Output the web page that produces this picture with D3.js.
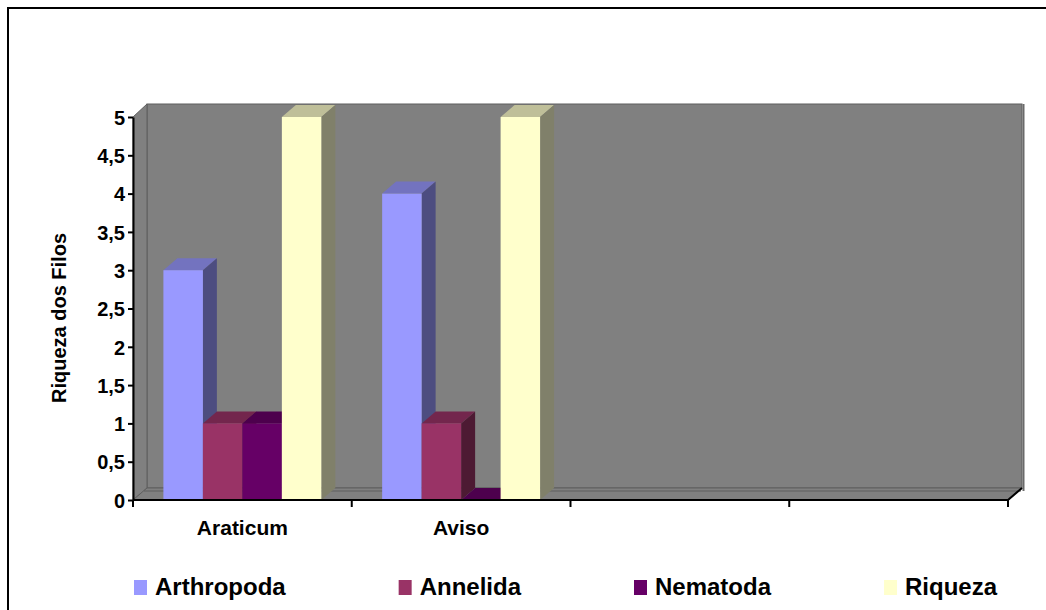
<!DOCTYPE html>
<html>
<head>
<meta charset="utf-8">
<script src="https://cdn.jsdelivr.net/npm/d3@7"></script>
<style>
  html, body { margin: 0; padding: 0; background: #fff; }
  svg { display: block; }
  text { font-family: Arial, "Liberation Sans", sans-serif; font-weight: bold; fill: #000; }
</style>
</head>
<body>
<svg id="chart" width="1046" height="610"></svg>
<script>
// Category slots on the x axis (the last two are empty)
const categories = ["Araticum", "Aviso", "", ""];
// Series names
const series = ["Arthropoda", "Annelida", "Nematoda", "Riqueza"];
// Values per series, one per category slot (null = no data)
const arthropoda = [3, 4, null, null];
const annelida   = [1, 1, null, null];
const nematoda   = [1, 0, null, null];
const riqueza    = [5, 5, null, null];
// Y axis ticks
const yTicks = [0, 0.5, 1, 1.5, 2, 2.5, 3, 3.5, 4, 4.5, 5];
const yTitle = "Riqueza dos Filos";

const seriesValues = [arthropoda, annelida, nematoda, riqueza];

// face colours: front, top, side
const palette = {
  Arthropoda: { front: "#9999FF", top: "#7373BF", side: "#4D4D80" },
  Annelida:   { front: "#993366", top: "#73264D", side: "#4D1A33" },
  Nematoda:   { front: "#660066", top: "#4D004D", side: "#330033" },
  Riqueza:    { front: "#FFFFCC", top: "#BFBF99", side: "#80806A" }
};

const svg = d3.select("#chart");

// outer chart frame
svg.append("rect")
  .attr("x", 8).attr("y", 8).attr("width", 1060).attr("height", 640)
  .attr("fill", "#fff").attr("stroke", "#000").attr("stroke-width", 2);

// plot geometry
const plotLeft = 133, plotRight = 1008, plotBottom = 500, plotTop = 117;
const dx = 14, dy = -12;   // depth offset of the 3D box

const x = d3.scaleBand().domain(d3.range(categories.length)).range([plotLeft, plotRight]);
const xs = d3.scaleBand().domain(series).range([0, x.bandwidth()]).paddingOuter(0.77);
const y = d3.scaleLinear().domain([0, 5]).range([plotBottom, plotTop]);

const wallFill = "#808080", wallEdge = "#5F5F5F";
const g = svg.append("g");

// back wall
g.append("rect")
  .attr("x", plotLeft + dx).attr("y", plotTop + dy - 1)
  .attr("width", plotRight - plotLeft).attr("height", plotBottom - plotTop + 1)
  .attr("fill", wallFill).attr("stroke", wallEdge).attr("stroke-width", 1);
// shadow strip on the right edge of the back wall
g.append("line")
  .attr("x1", plotRight + dx + 1.5).attr("x2", plotRight + dx + 1.5)
  .attr("y1", plotTop + dy - 1).attr("y2", plotBottom + dy + 3)
  .attr("stroke", "#6A6A6A").attr("stroke-width", 2);

// side wall
g.append("path")
  .attr("d", `M${plotLeft},${plotTop}L${plotLeft + dx},${plotTop + dy - 1}L${plotLeft + dx},${plotBottom + dy}L${plotLeft},${plotBottom}Z`)
  .attr("fill", wallFill).attr("stroke", wallEdge).attr("stroke-width", 1);

// floor
g.append("path")
  .attr("d", `M${plotLeft},${plotBottom}L${plotLeft + dx},${plotBottom + dy}L${plotRight + dx},${plotBottom + dy}L${plotRight},${plotBottom}Z`)
  .attr("fill", wallFill).attr("stroke", wallEdge).attr("stroke-width", 1);
// floor slab edge
g.append("line")
  .attr("x1", plotLeft + dx - 3).attr("x2", plotRight + dx - 1)
  .attr("y1", plotBottom + dy + 3).attr("y2", plotBottom + dy + 3)
  .attr("stroke", wallEdge).attr("stroke-width", 1);

// bars, left to right so each front face covers the neighbour's side
const bars = g.append("g");
categories.forEach((cat, i) => {
  series.forEach((s, j) => {
    const v = seriesValues[j][i];
    if (v === null || v === undefined) return;
    const c = palette[s];
    const x0 = x(i) + xs(s), w = xs.bandwidth();
    const y0 = y(v), yb = y(0);
    // top face
    bars.append("path")
      .attr("d", `M${x0},${y0}L${x0 + dx},${y0 + dy}L${x0 + w + dx},${y0 + dy}L${x0 + w},${y0}Z`)
      .attr("fill", c.top);
    // side face
    bars.append("path")
      .attr("d", `M${x0 + w},${y0}L${x0 + w + dx},${y0 + dy}L${x0 + w + dx},${yb + dy}L${x0 + w},${yb}Z`)
      .attr("fill", c.side);
    // front face
    bars.append("rect")
      .attr("x", x0).attr("y", y0).attr("width", w).attr("height", yb - y0)
      .attr("fill", c.front);
  });
});

// y axis
const fmt = d3.formatLocale({ decimal: ",", thousands: ".", grouping: [3], currency: ["", ""] }).format("~g");
const yAxis = svg.append("g")
  .attr("transform", `translate(${plotLeft},0)`)
  .call(d3.axisLeft(y).tickValues(yTicks).tickFormat(fmt).tickSize(5).tickSizeOuter(0).tickPadding(3));
yAxis.select(".domain").attr("stroke", "#000").attr("stroke-width", 2);
yAxis.selectAll(".tick line").attr("stroke", "#000").attr("stroke-width", 2);
yAxis.selectAll(".tick text")
  .attr("font-size", 20).attr("font-family", "Arial, 'Liberation Sans', sans-serif")
  .attr("font-weight", "bold").attr("fill", "#000").attr("dy", "0.36em");

// x axis line along the floor front plus the right depth edge
svg.append("path")
  .attr("d", `M${plotLeft},${plotBottom}L${plotRight},${plotBottom}L${plotRight + dx},${plotBottom + dy}`)
  .attr("fill", "none").attr("stroke", "#000").attr("stroke-width", 2);
// x axis ticks at slot boundaries
const boundaries = d3.range(categories.length + 1).map(i => i < categories.length ? x(i) : plotRight);
svg.selectAll(".xtick").data(boundaries).join("line")
  .attr("class", "xtick")
  .attr("x1", d => d).attr("x2", d => d)
  .attr("y1", plotBottom).attr("y2", plotBottom + 7)
  .attr("stroke", "#000").attr("stroke-width", 2);
// category labels
svg.selectAll(".xlabel").data(categories).join("text")
  .attr("class", "xlabel")
  .attr("x", (d, i) => x(i) + x.bandwidth() / 2)
  .attr("y", 535)
  .attr("text-anchor", "middle")
  .attr("font-size", 21)
  .text(d => d);

// y axis title
svg.append("text")
  .attr("transform", `translate(66,318) rotate(-90)`)
  .attr("text-anchor", "middle")
  .attr("font-size", 20)
  .text(yTitle);

// legend: items laid out with a constant gap after each label
const legend = svg.append("g");
let lx = 134;
series.forEach(s => {
  legend.append("rect")
    .attr("x", lx).attr("y", 580).attr("width", 13).attr("height", 15)
    .attr("fill", palette[s].front);
  const t = legend.append("text")
    .attr("x", lx + 21).attr("y", 595)
    .attr("font-size", 24)
    .text(s);
  lx = lx + 21 + t.node().getComputedTextLength() + 113;
});
</script>
</body>
</html>
